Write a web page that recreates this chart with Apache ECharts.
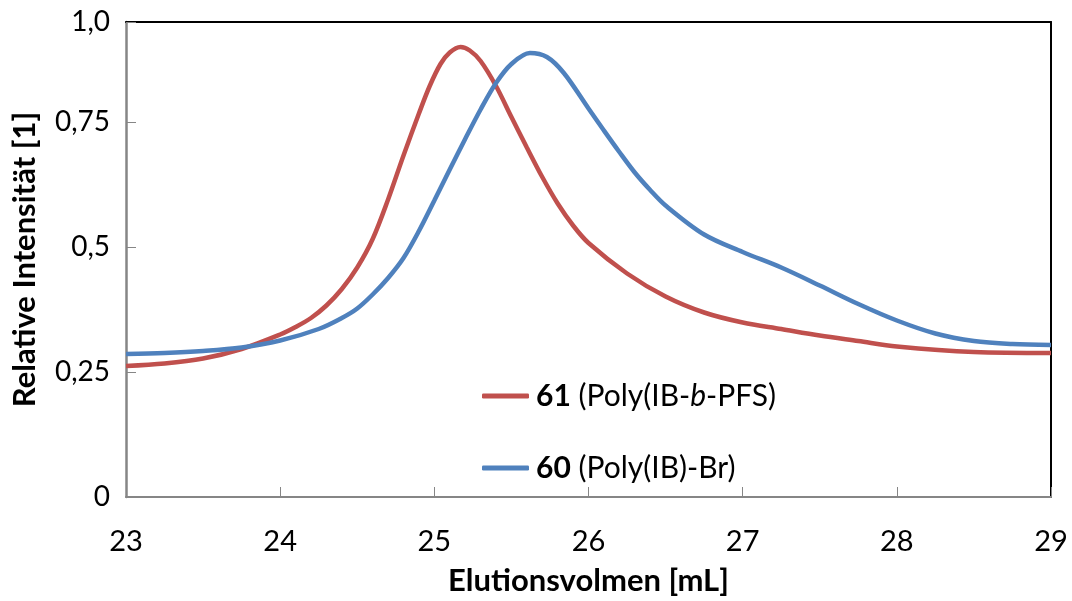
<!DOCTYPE html>
<html style="height: 100%">
<head>
  <meta charset="UTF-8">
  <title>Elutionsvolumen</title>
  <script src="https://cdn.jsdelivr.net/npm/echarts@6/dist/echarts.min.js"></script>
  <style>
    html, body {
      margin: 0;
      height: 100%;
      width: 100%;
      background: #fff;
    }
    #chart {
      width: 1072px;
      height: 601px;
    }
  </style>
</head>
<body>
  <div id="chart"></div>
  <script>
    // 61 (Poly(IB-b-PFS)) – red trace
    const volume61 = [23.0, 23.25, 23.5, 23.75, 24.0, 24.1, 24.2, 24.3, 24.4, 24.5, 24.6, 24.7, 24.8, 24.9, 24.97,
      25.04, 25.1, 25.17, 25.23, 25.3, 25.4, 25.5, 25.6, 25.7, 25.8, 25.9, 26.0, 26.25, 26.5, 26.75, 27.0, 27.25,
      27.5, 27.75, 28.0, 28.5, 29.0];
    const intensity61 = [0.262, 0.267, 0.277, 0.296, 0.325, 0.340, 0.358, 0.383, 0.416, 0.459, 0.516, 0.595, 0.683, 0.767, 0.822,
      0.866, 0.889, 0.900, 0.893, 0.872, 0.822, 0.760, 0.699, 0.640, 0.587, 0.543, 0.508, 0.447, 0.401, 0.369, 0.349, 0.336,
      0.323, 0.312, 0.301, 0.290, 0.288];

    // 60 (Poly(IB)-Br) – blue trace
    const volume60 = [23.0, 23.25, 23.5, 23.75, 24.0, 24.25, 24.4, 24.5, 24.6, 24.7, 24.8, 24.9, 25.0, 25.1, 25.2,
      25.3, 25.4, 25.5, 25.62, 25.73, 25.84, 26.0, 26.1, 26.2, 26.3, 26.4, 26.5, 26.75, 27.0, 27.25, 27.5, 27.75,
      28.0, 28.25, 28.5, 28.75, 29.0];
    const intensity60 = [0.286, 0.288, 0.292, 0.299, 0.313, 0.336, 0.358, 0.377, 0.405, 0.438, 0.478, 0.532, 0.593, 0.655, 0.716,
      0.775, 0.828, 0.866, 0.888, 0.880, 0.848, 0.777, 0.733, 0.690, 0.649, 0.614, 0.583, 0.525, 0.490, 0.459, 0.423, 0.386,
      0.353, 0.327, 0.312, 0.306, 0.304];

    const legendLabels = {
      '61': '{b|61} (Poly(IB-{i|b}-PFS)',
      '60': '{b|60} (Poly(IB)-Br)'
    };

    const font = 'Lato, "Open Sans", sans-serif';
    const pair = (xs, ys) => xs.map((x, i) => [x, ys[i]]);

    const chart = echarts.init(document.getElementById('chart'));
    chart.setOption({
      animation: false,
      grid: { left: 126, right: 21, top: 22, bottom: 104, outerBoundsMode: 'none' },
      legend: {
        orient: 'vertical',
        left: 477,
        top: 376,
        itemGap: 42,
        itemWidth: 47,
        itemHeight: 5,
        icon: 'roundRect',
        data: ['61', '60'],
        formatter: name => legendLabels[name],
        textStyle: {
          fontFamily: font,
          fontSize: 30,
          color: '#000',
          padding: [0, 0, 0, 2],
          rich: {
            b: { fontFamily: font, fontSize: 30, fontWeight: 'bold', color: '#000' },
            i: { fontFamily: font, fontSize: 30, fontStyle: 'italic', color: '#000' }
          }
        }
      },
      xAxis: [{
        type: 'value',
        min: 23,
        max: 29,
        interval: 1,
        name: 'Elutionsvolmen [mL]',
        nameLocation: 'middle',
        nameGap: 68,
        nameTextStyle: { fontFamily: font, fontSize: 31, fontWeight: 'bold', color: '#000' },
        axisLine: { onZero: false, lineStyle: { color: '#868686', width: 2 } },
        axisTick: { inside: true, length: 10, lineStyle: { color: '#868686', width: 1 } },
        axisLabel: { fontFamily: font, fontSize: 29, color: '#000', margin: 30 },
        splitLine: { show: false }
      }, {
        type: 'value',
        position: 'top',
        min: 23,
        max: 29,
        axisLine: { show: true, onZero: false, lineStyle: { color: '#000', width: 2 } },
        axisTick: { show: false },
        axisLabel: { show: false },
        splitLine: { show: false }
      }],
      yAxis: [{
        type: 'value',
        min: 0,
        max: 0.95,
        interval: 0.25,
        name: 'Relative Intensität [1]',
        nameLocation: 'middle',
        nameGap: 86,
        nameTextStyle: { fontFamily: font, fontSize: 31, fontWeight: 'bold', color: '#000' },
        axisLine: { show: true, onZero: false, lineStyle: { color: '#868686', width: 2.5 } },
        axisTick: { show: true, inside: true, length: 10, lineStyle: { color: '#868686', width: 1 } },
        axisLabel: {
          fontFamily: font,
          fontSize: 28,
          color: '#000',
          margin: 16,
          formatter: v => (v >= 0.95 ? '1,0' : String(v).replace('.', ','))
        },
        splitLine: { show: false }
      }, {
        type: 'value',
        position: 'right',
        min: 0,
        max: 0.95,
        axisLine: { show: true, onZero: false, lineStyle: { color: '#000', width: 2 } },
        axisTick: { show: false },
        axisLabel: { show: false },
        splitLine: { show: false }
      }],
      series: [{
        name: '61',
        type: 'line',
        smooth: 0.33,
        showSymbol: false,
        color: '#C0504D',
        lineStyle: { width: 4.5 },
        data: pair(volume61, intensity61)
      }, {
        name: '60',
        type: 'line',
        smooth: 0.33,
        showSymbol: false,
        color: '#4F81BD',
        lineStyle: { width: 4.5 },
        data: pair(volume60, intensity60)
      }]
    });
  </script>
</body>
</html>
